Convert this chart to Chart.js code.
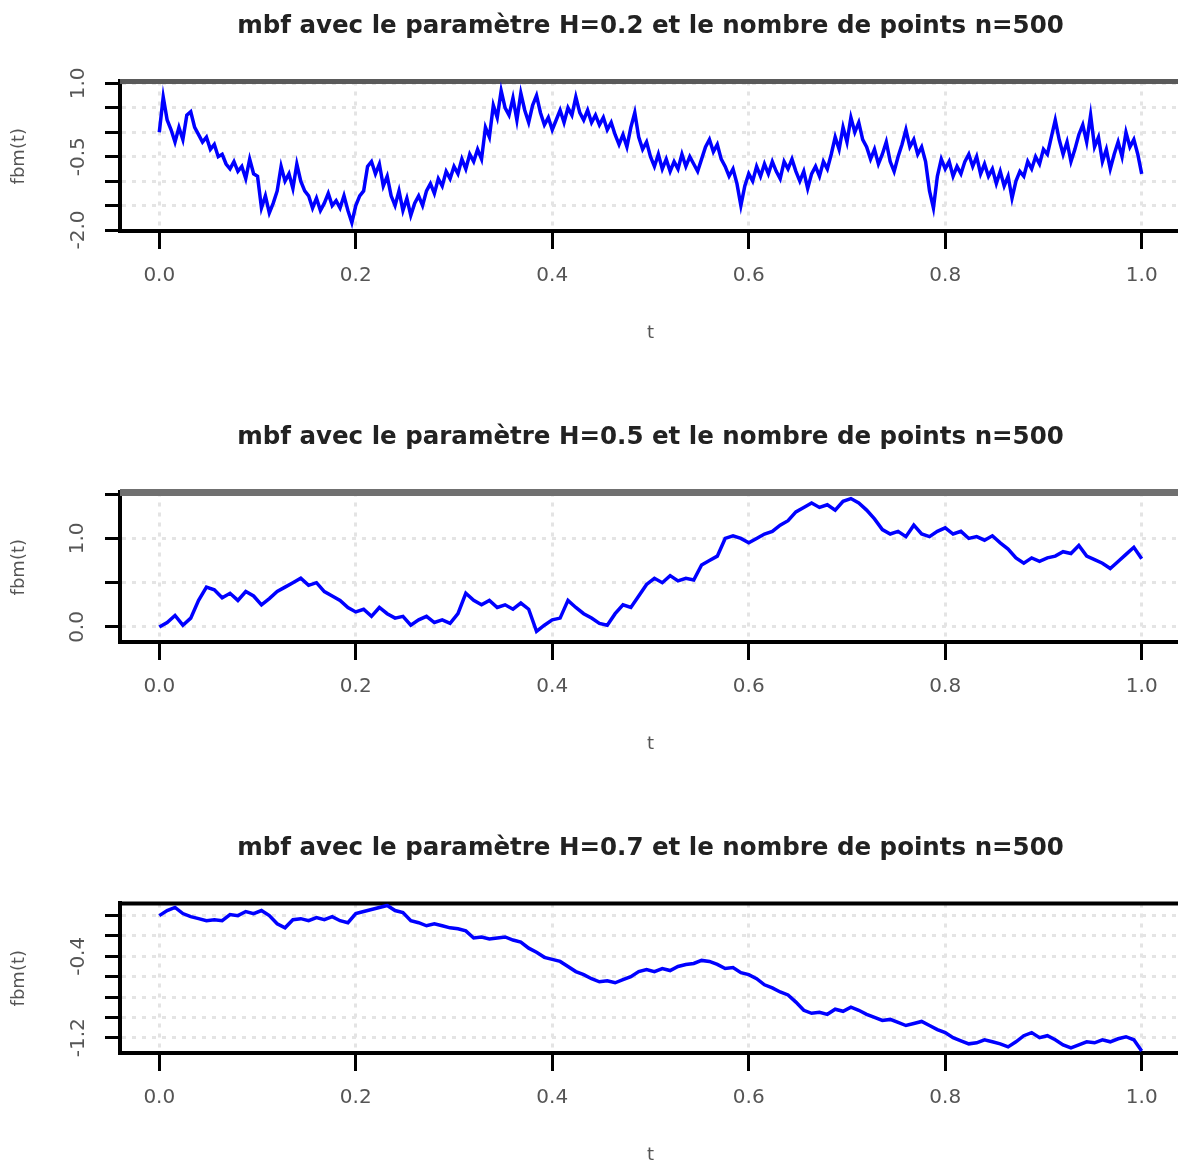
<!DOCTYPE html>
<html>
<head>
<meta charset="utf-8">
<script src="https://cdn.jsdelivr.net/npm/chart.js@4.4.0/dist/chart.umd.min.js"></script>
<style>
  html, body { margin: 0; padding: 0; background: #fff; overflow: hidden; }
  .panel { position: absolute; left: 0; }
</style>
</head>
<body>
<canvas id="c1" class="panel" width="1181" height="411" style="top:0px"></canvas>
<canvas id="c2" class="panel" width="1181" height="411" style="top:411px"></canvas>
<canvas id="c3" class="panel" width="1181" height="411" style="top:822px"></canvas>
<script>
// valeurs (trajectoires du mbf)
const fbmH02 = [
  0.0, 0.72, 0.25, 0.05, -0.2, 0.1, -0.15, 0.35, 0.42, 0.1,
  -0.05, -0.2, -0.1, -0.35, -0.25, -0.5, -0.45, -0.65, -0.75, -0.6,
  -0.8, -0.7, -0.95, -0.55, -0.85, -0.9, -1.55, -1.3, -1.65, -1.45,
  -1.2, -0.7, -1.0, -0.85, -1.15, -0.65, -1.0, -1.2, -1.3, -1.55,
  -1.35, -1.6, -1.45, -1.25, -1.5, -1.4, -1.55, -1.3, -1.6, -1.85,
  -1.5, -1.3, -1.2, -0.7, -0.6, -0.85, -0.65, -1.1, -0.9, -1.3,
  -1.5, -1.2, -1.6, -1.35, -1.7, -1.45, -1.3, -1.5, -1.2, -1.05,
  -1.25, -0.95, -1.1, -0.8, -0.95, -0.7, -0.85, -0.55, -0.75, -0.45,
  -0.6, -0.35, -0.55, 0.1, -0.1, 0.55, 0.3, 0.85, 0.5, 0.35,
  0.7, 0.25, 0.8, 0.45, 0.2, 0.55, 0.75, 0.4, 0.15, 0.3,
  0.05, 0.25, 0.45, 0.2, 0.5, 0.35, 0.72, 0.4, 0.25, 0.45,
  0.2, 0.35, 0.15, 0.3, 0.05, 0.2, -0.05, -0.25, -0.05, -0.3,
  0.1, 0.4, -0.1, -0.35, -0.2, -0.5, -0.7, -0.45, -0.75, -0.55,
  -0.8, -0.6, -0.75, -0.45, -0.7, -0.5, -0.65, -0.8, -0.55, -0.3,
  -0.15, -0.4, -0.25, -0.55, -0.7, -0.9, -0.75, -1.05, -1.5, -1.1,
  -0.85, -1.0, -0.7, -0.9, -0.65, -0.85, -0.6, -0.8, -0.95, -0.6,
  -0.75, -0.55, -0.8, -1.0, -0.8, -1.15, -0.85, -0.7, -0.9, -0.6,
  -0.75, -0.45, -0.1, -0.35, 0.1, -0.2, 0.3, 0.0, 0.2, -0.15,
  -0.3, -0.55, -0.35, -0.65, -0.45, -0.2, -0.6, -0.8, -0.5, -0.25,
  0.05, -0.3, -0.15, -0.45, -0.3, -0.6, -1.2, -1.55, -0.9, -0.55,
  -0.75, -0.6, -0.9, -0.7, -0.85, -0.6, -0.45, -0.7, -0.5, -0.85,
  -0.65, -0.9, -0.75, -1.05, -0.8, -1.1, -0.9, -1.35, -1.0, -0.8,
  -0.9, -0.6, -0.75, -0.5, -0.65, -0.35, -0.45, -0.1, 0.25, -0.15,
  -0.45, -0.2, -0.6, -0.35, -0.05, 0.15, -0.2, 0.35, -0.3, -0.1,
  -0.6, -0.35, -0.75, -0.45, -0.2, -0.5, 0.0, -0.3, -0.15, -0.45,
  -0.85
];
const fbmH05 = [
  0.0, 0.05, 0.13, 0.02, 0.1, 0.3, 0.45, 0.42, 0.33, 0.38,
  0.3, 0.4, 0.35, 0.25, 0.32, 0.4, 0.45, 0.5, 0.55, 0.47,
  0.5, 0.4, 0.35, 0.3, 0.22, 0.17, 0.2, 0.12, 0.22, 0.15,
  0.1, 0.12, 0.02, 0.08, 0.12, 0.05, 0.08, 0.04, 0.15, 0.38,
  0.3, 0.25, 0.3, 0.22, 0.25, 0.2, 0.27, 0.2, -0.05, 0.02,
  0.08, 0.1, 0.3, 0.22, 0.15, 0.1, 0.04, 0.02, 0.15, 0.25,
  0.22, 0.35, 0.48, 0.55, 0.5, 0.58, 0.52, 0.55, 0.53, 0.7,
  0.75, 0.8, 1.0, 1.03, 1.0, 0.95, 1.0, 1.05, 1.08, 1.15,
  1.2, 1.3, 1.35, 1.4, 1.35, 1.38, 1.32, 1.42, 1.45, 1.4,
  1.32, 1.22, 1.1, 1.05, 1.08, 1.02, 1.15, 1.05, 1.02, 1.08,
  1.12, 1.05, 1.08, 1.0, 1.02, 0.98, 1.03, 0.95, 0.88, 0.78,
  0.72, 0.78, 0.74, 0.78, 0.8, 0.85, 0.83, 0.92, 0.8, 0.76,
  0.72, 0.66, 0.74, 0.82, 0.9, 0.77
];
const fbmH07 = [
  0.0, 0.05, 0.08, 0.02, -0.01, -0.03, -0.05, -0.04, -0.05, 0.01,
  0.0, 0.04, 0.02, 0.05, 0.0, -0.08, -0.12, -0.04, -0.03, -0.05,
  -0.02, -0.04, -0.01, -0.05, -0.07, 0.02, 0.04, 0.06, 0.08, 0.1,
  0.05, 0.03, -0.05, -0.07, -0.1, -0.08, -0.1, -0.12, -0.13, -0.15,
  -0.22, -0.21, -0.23, -0.22, -0.21, -0.24, -0.26, -0.32, -0.36, -0.41,
  -0.43, -0.45, -0.5, -0.55, -0.58, -0.62, -0.65, -0.64, -0.66, -0.63,
  -0.6, -0.55, -0.53, -0.55, -0.52, -0.54, -0.5, -0.48, -0.47, -0.44,
  -0.45, -0.48, -0.52, -0.51, -0.56, -0.58, -0.62, -0.68, -0.71, -0.75,
  -0.78, -0.85, -0.93, -0.96, -0.95, -0.97, -0.92, -0.94, -0.9, -0.93,
  -0.97, -1.0, -1.03, -1.02, -1.05, -1.08, -1.06, -1.04, -1.08, -1.12,
  -1.15, -1.2, -1.23, -1.26, -1.25, -1.22, -1.24, -1.26, -1.29, -1.24,
  -1.18, -1.15, -1.2, -1.18, -1.22, -1.27, -1.3, -1.27, -1.24, -1.25,
  -1.22, -1.24, -1.21, -1.19, -1.22, -1.33
];

// graduations
const xTicks = [0, 0.2, 0.4, 0.6, 0.8, 1.0];
const yTicks1 = [-2.0, -1.5, -1.0, -0.5, 0.0, 0.5, 1.0];
const yLabels1 = ['1.0', '-0.5', '-2.0'];
const yTicks2 = [0.0, 0.5, 1.0, 1.5];
const yLabels2 = ['0.0', '1.0'];
const yTicks3 = [-1.2, -1.0, -0.8, -0.6, -0.4, -0.2, 0.0];
const yLabels3 = ['-0.4', '-1.2'];

Chart.defaults.font.family = 'DejaVu Sans';
Chart.defaults.color = '#555';

// ligne du haut du cadre
const topLine = {
  id: 'topLine',
  beforeDatasetsDraw(chart, args, opts) {
    const { ctx, chartArea } = chart;
    ctx.save();
    ctx.strokeStyle = opts.color;
    ctx.lineWidth = opts.width;
    ctx.beginPath();
    ctx.moveTo(chartArea.left, chartArea.top);
    ctx.lineTo(chartArea.right, chartArea.top);
    ctx.stroke();
    ctx.restore();
  }
};

function makeChart(id, title, values, yTicks, yLabels, yMin, yMax, labelPad, topColor, topWidth) {
  const points = values.map((v, i) => ({ x: i / (values.length - 1), y: v }));
  const ctx = document.getElementById(id).getContext('2d');
  return new Chart(ctx, {
    type: 'line',
    data: {
      datasets: [{
        data: points,
        borderColor: '#0000ff',
        borderWidth: 3.5,
        pointRadius: 0,
        tension: 0
      }]
    },
    options: {
      responsive: false,
      animation: false,
      layout: { padding: 0 },
      plugins: {
        legend: { display: false },
        tooltip: { enabled: false },
        title: {
          display: true,
          text: title,
          fullSize: false,
          color: '#222',
          font: { size: 24.5, weight: 'bold' },
          padding: { top: 12, bottom: 40 }
        },
        topLine: { color: topColor, width: topWidth }
      },
      scales: {
        x: {
          type: 'linear',
          min: -0.04,
          max: 1.04,
          afterBuildTicks: s => { s.ticks = xTicks.map(v => ({ value: v })); },
          afterFit: s => { s.height = 180; },
          ticks: {
            font: { size: 20 },
            padding: 15,
            maxRotation: 0,
            autoSkip: false,
            callback: v => v.toFixed(1)
          },
          grid: { color: '#e4e4e4', lineWidth: 3, tickColor: '#000', tickWidth: 3, tickLength: 18 },
          border: { color: '#000', width: 4, dash: [4, 6] },
          title: { display: true, text: 't', font: { size: 18 }, padding: { bottom: 67 } }
        },
        y: {
          type: 'linear',
          min: yMin,
          max: yMax,
          afterBuildTicks: s => { s.ticks = yTicks.map(v => ({ value: v })); },
          afterFit: s => { s.width = 120; },
          ticks: {
            font: { size: 20 },
            minRotation: 90,
            maxRotation: 90,
            autoSkip: false,
            crossAlign: 'center',
            padding: labelPad,
            callback: v => yLabels.includes(v.toFixed(1)) ? v.toFixed(1) : ''
          },
          grid: { color: '#e4e4e4', lineWidth: 3, tickColor: '#000', tickWidth: 3, tickLength: 15 },
          border: { color: '#000', width: 4, dash: [4, 6] },
          title: { display: true, text: 'fbm(t)', font: { size: 18 }, padding: { top: 9 } }
        }
      }
    },
    plugins: [topLine]
  });
}

makeChart('c1', 'mbf avec le paramètre H=0.2 et le nombre de points n=500',
  fbmH02, yTicks1, yLabels1, -2.02, 1.04, 7, '#5a5a5a', 5);
makeChart('c2', 'mbf avec le paramètre H=0.5 et le nombre de points n=500',
  fbmH05, yTicks2, yLabels2, -0.17, 1.52, 11, '#707070', 7);
makeChart('c3', 'mbf avec le paramètre H=0.7 et le nombre de points n=500',
  fbmH07, yTicks3, yLabels3, -1.35, 0.12, 7, '#000', 4);
</script>
</body>
</html>
